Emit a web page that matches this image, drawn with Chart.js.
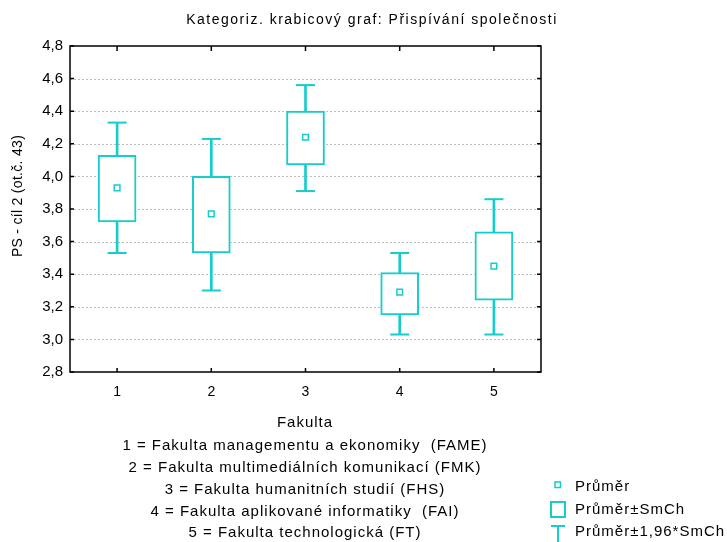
<!DOCTYPE html>
<html>
<head>
<meta charset="utf-8">
<script src="https://cdn.jsdelivr.net/npm/chart.js@4"></script>
<style>
  html, body { margin: 0; padding: 0; background: #fff; }
  #wrap { width: 727px; height: 542px; }
</style>
</head>
<body>
<div id="wrap"><canvas id="chart"></canvas></div>
<script>
// data (mean, mean±SE box, mean±1.96*SE whiskers)
const faculties = [1, 2, 3, 4, 5];
const facultyNames = [
  '1 = Fakulta managementu a ekonomiky  (FAME)',
  '2 = Fakulta multimediálních komunikací (FMK)',
  '3 = Fakulta humanitních studií (FHS)',
  '4 = Fakulta aplikované informatiky  (FAI)',
  '5 = Fakulta technologická (FT)'
];
const means = [3.93, 3.77, 4.24, 3.29, 3.45];
const boxLow = [3.72, 3.53, 4.07, 3.15, 3.24];
const boxHigh = [4.13, 4.00, 4.40, 3.41, 3.66];
const whiskLow = [3.53, 3.30, 3.91, 3.03, 3.03];
const whiskHigh = [4.33, 4.23, 4.56, 3.53, 3.86];
const yTicks = [2.8, 3.0, 3.2, 3.4, 3.6, 3.8, 4.0, 4.2, 4.4, 4.6, 4.8];
const legendLabels = ['Průměr', 'Průměr±SmCh', 'Průměr±1,96*SmCh'];

const CYAN = '#17CCCC';
const FONT = '"Liberation Sans", Arial, sans-serif';

// dotted gridlines, behind the boxes
const gridPlugin = {
  id: 'gridLines',
  beforeDatasetsDraw(chart) {
    const { ctx, chartArea: a, scales: { y } } = chart;
    ctx.save();
    ctx.strokeStyle = '#bdbdbd';
    ctx.lineWidth = 1;
    ctx.setLineDash([2, 2]);
    yTicks.slice(1, -1).forEach(v => {
      const py = Math.round(y.getPixelForValue(v)) + 0.5;
      ctx.beginPath();
      ctx.moveTo(a.left, py);
      ctx.lineTo(a.right, py);
      ctx.stroke();
    });
    ctx.restore();
  }
};

// black frame with inward ticks on all four sides
const framePlugin = {
  id: 'frame',
  afterDatasetsDraw(chart) {
    const { ctx, chartArea: a, scales: { x, y } } = chart;
    ctx.save();
    ctx.strokeStyle = '#000';
    ctx.lineWidth = 1.5;
    ctx.strokeRect(a.left, a.top, a.right - a.left, a.bottom - a.top);
    ctx.beginPath();
    yTicks.forEach(v => {
      const py = y.getPixelForValue(v);
      ctx.moveTo(a.left, py); ctx.lineTo(a.left + 4, py);
      ctx.moveTo(a.right, py); ctx.lineTo(a.right - 4, py);
    });
    faculties.forEach(v => {
      const px = x.getPixelForValue(v);
      ctx.moveTo(px, a.top); ctx.lineTo(px, a.top + 5);
      ctx.moveTo(px, a.bottom); ctx.lineTo(px, a.bottom - 4);
    });
    ctx.stroke();
    ctx.restore();
  }
};

// title, axis titles, category key and legend
const textPlugin = {
  id: 'texts',
  afterDraw(chart) {
    const { ctx } = chart;
    ctx.save();
    ctx.fillStyle = '#000';
    ctx.textBaseline = 'middle';
    ctx.textAlign = 'center';
    ctx.letterSpacing = '1.5px';
    ctx.font = '14px ' + FONT;
    ctx.fillText('Kategoriz. krabicový graf: Přispívání společnosti', 372, 20);

    ctx.font = '15px ' + FONT;
    ctx.letterSpacing = '1px';
    ctx.fillText('Fakulta', 305, 423);
    facultyNames.forEach((t, i) => ctx.fillText(t, 305, 446 + i * 21.8));

    ctx.save();
    ctx.font = '14px ' + FONT;
    ctx.letterSpacing = '0.3px';
    ctx.translate(18, 196);
    ctx.rotate(-Math.PI / 2);
    ctx.fillText('PS - cíl 2 (ot.č. 43)', 0, 0);
    ctx.restore();

    // legend
    ctx.textAlign = 'left';
    const lx = 575;
    const ly = [487, 510, 532];
    legendLabels.forEach((t, i) => ctx.fillText(t, lx, ly[i]));
    ctx.strokeStyle = CYAN;
    ctx.lineWidth = 1.5;
    ctx.strokeRect(555, 482, 5.5, 5.5);
    ctx.lineWidth = 2;
    ctx.strokeRect(551, 502, 14, 15);
    ctx.beginPath();
    ctx.moveTo(551, 526); ctx.lineTo(565, 526);
    ctx.moveTo(558, 526); ctx.lineTo(558, 542);
    ctx.stroke();
    ctx.restore();
  }
};

const boxData = faculties.map((f, i) => ({ x: f, y: [boxLow[i], boxHigh[i]] }));
const stemData = faculties.map((f, i) => ({ x: f, y: [whiskLow[i], whiskHigh[i]] }));
const capData = faculties.flatMap((f, i) => [{ x: f, y: whiskLow[i] }, { x: f, y: whiskHigh[i] }]);
const meanData = faculties.map((f, i) => ({ x: f, y: means[i] }));

new Chart(document.getElementById('chart'), {
  type: 'bar',
  data: {
    datasets: [
      {
        type: 'scatter',
        data: meanData,
        pointStyle: 'rect',
        pointRadius: 4,
        pointBorderWidth: 1.5,
        pointBorderColor: CYAN,
        pointBackgroundColor: '#fff',
        order: 0
      },
      {
        data: boxData,
        backgroundColor: '#fff',
        borderColor: CYAN,
        borderWidth: 2,
        borderSkipped: false,
        barThickness: 38,
        grouped: false,
        order: 1
      },
      {
        type: 'scatter',
        data: capData,
        pointStyle: 'line',
        pointRadius: 9.5,
        pointBorderWidth: 2,
        pointBorderColor: CYAN,
        order: 2
      },
      {
        data: stemData,
        backgroundColor: CYAN,
        borderWidth: 0,
        barThickness: 2,
        grouped: false,
        order: 3
      }
    ]
  },
  options: {
    responsive: true,
    maintainAspectRatio: false,
    animation: false,
    events: [],
    layout: { padding: { top: 46, right: 186, left: 0, bottom: 0 } },
    plugins: { legend: { display: false }, tooltip: { enabled: false }, title: { display: false } },
    scales: {
      x: {
        type: 'linear',
        offset: false,
        min: 0.5,
        max: 5.5,
        afterBuildTicks: s => { s.ticks = faculties.map(v => ({ value: v })); },
        afterFit: s => { s.height = 170; },
        grid: { display: false, drawTicks: false, offset: false },
        border: { display: false },
        ticks: { color: '#000', padding: 12, font: { family: FONT, size: 14 } }
      },
      y: {
        min: 2.8,
        max: 4.8,
        afterBuildTicks: s => { s.ticks = yTicks.map(v => ({ value: v })); },
        afterFit: s => { s.width = 70; },
        grid: { display: false, drawTicks: false },
        border: { display: false },
        ticks: {
          color: '#000',
          padding: 7,
          font: { family: FONT, size: 15 },
          callback: v => v.toFixed(1).replace('.', ',')
        }
      }
    }
  },
  plugins: [gridPlugin, framePlugin, textPlugin]
});
</script>
</body>
</html>
